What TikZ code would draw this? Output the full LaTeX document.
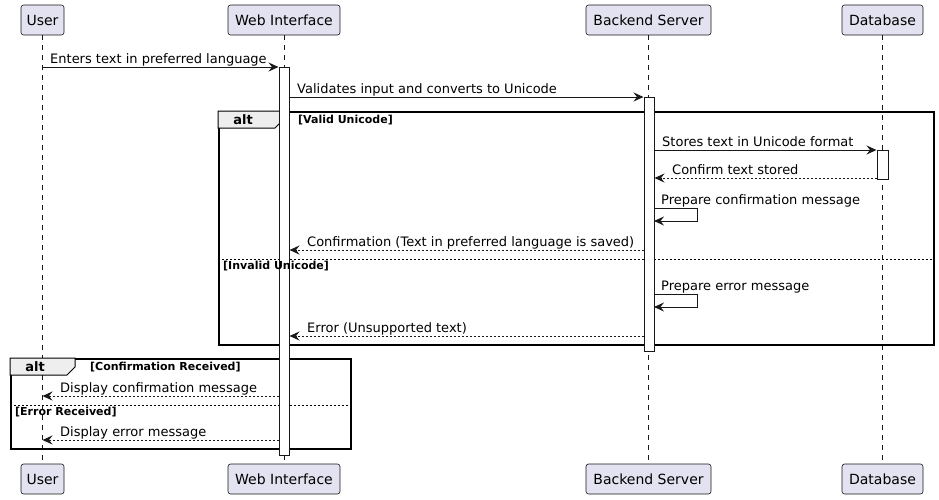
\documentclass[tikz,border=0pt]{standalone}
\usepackage{fontspec}
\setmainfont{DejaVu Sans}
\usetikzlibrary{arrows.meta}
\definecolor{pfill}{HTML}{E2E2F0}
\definecolor{pline}{HTML}{181818}
\definecolor{tabfill}{HTML}{EEEEEE}
\begin{document}
\begin{tikzpicture}[x=1pt,y=-1pt,
 participant/.style={draw=pline, fill=pfill, rounded corners=2.5pt, line width=0.6pt, minimum height=30pt, inner sep=0pt, font=\fontsize{14}{16}\selectfont},
 lifeline/.style={draw=pline, line width=0.6pt, dash pattern=on 5pt off 5pt},
 actbar/.style={draw=pline, fill=white, line width=1pt, minimum width=10pt, inner sep=0pt, anchor=north},
 msg/.style={draw=pline, line width=1pt, -{Stealth[length=10pt,width=9pt,inset=3.5pt]}},
 ret/.style={msg, dash pattern=on 2pt off 2pt},
 lbl/.style={anchor=base west, inner sep=0pt, font=\fontsize{13}{15}\selectfont},
 altframe/.style={draw=black, line width=1.5pt, inner sep=0pt, anchor=north west},
 tab/.style={fill=tabfill, draw=black, line width=1pt},
 altlbl/.style={inner sep=0pt, font=\bfseries\fontsize{13}{15}\selectfont},
 guard/.style={anchor=west, inner sep=0pt, font=\bfseries\fontsize{11}{13}\selectfont},
 sep/.style={draw=black, line width=0.8pt, dash pattern=on 2pt off 2pt}
]
\useasboundingbox (0,0) rectangle (939,499);

% participants
\node[participant, minimum width=43pt] (userT) at (42.5,20) {User};
\node[participant, minimum width=112pt] (webT) at (284,20) {Web Interface};
\node[participant, minimum width=125pt] (backT) at (648.5,20) {Backend Server};
\node[participant, minimum width=81pt] (dbT) at (882.5,20) {Database};
\node[participant, minimum width=43pt] (userB) at (42.5,479) {User};
\node[participant, minimum width=112pt] (webB) at (284,479) {Web Interface};
\node[participant, minimum width=125pt] (backB) at (648.5,479) {Backend Server};
\node[participant, minimum width=81pt] (dbB) at (882.5,479) {Database};

% lifelines
\draw[lifeline] (userT.south) -- (userB.north);
\draw[lifeline] (webT.south) -- (webB.north);
\draw[lifeline] (backT.south) -- (backB.north);
\draw[lifeline] (dbT.south) -- (dbB.north);

% alt frame 1
\node[altframe, minimum width=715pt, minimum height=233pt] (alt1) at (218,111) {};
\draw[tab] (218,111) -- (283,111) -- (283,120) -- (275,128) -- (218,128) -- cycle;
\node[altlbl] (alt1l) at (243,120) {alt};
\draw[sep] (alt1.west |- 0,259) -- (alt1.east |- 0,259);

% alt frame 2
\node[altframe, minimum width=340pt, minimum height=90pt] (alt2) at (10,358) {};
\draw[tab] (10,358) -- (75,358) -- (75,367) -- (67,375) -- (10,375) -- cycle;
\node[altlbl] (alt2l) at (35,367) {alt};
\draw[sep] (alt2.west |- 0,405) -- (alt2.east |- 0,405);

% activation bars
\node[actbar, minimum height=388pt] (webAct) at (284,67) {};
\node[actbar, minimum height=254pt] (backAct) at (649,97) {};
\node[actbar, minimum width=11pt, minimum height=29pt] (dbAct) at (882.5,150) {};

% guards
\node[guard] (g1) at (298,120) {[Valid Unicode]};
\node[guard] (g2) at (223,266) {[Invalid Unicode]};
\node[guard] (g3) at (90,367) {[Confirmation Received]};
\node[guard] (g4) at (15,412) {[Error Received]};

% messages
\coordinate (m1) at (42.5,67);
\draw[msg] (m1) -- (webAct.west |- m1);
\node[lbl] (t1) at (50,63) {Enters text in preferred language};

\coordinate (m2) at (289,97);
\draw[msg] (m2) -- (backAct.west |- m2);
\node[lbl] (t2) at (297,93) {Validates input and converts to Unicode};

\coordinate (m3) at (654,150);
\draw[msg] (m3) -- (dbAct.west |- m3);
\node[lbl] (t3) at (662,146) {Stores text in Unicode format};

\coordinate (m4) at (877,178);
\draw[ret] (m4) -- (backAct.east |- m4);
\node[lbl] (t4) at (672,174) {Confirm text stored};

\coordinate (m5a) at (654,208);
\coordinate (m5b) at (654,221);
\draw[msg] (m5a) -- (697,208) -- (697,221) -- (m5b);
\node[lbl] (t5) at (661,204) {Prepare confirmation message};

\coordinate (m6) at (644,250);
\draw[ret] (m6) -- (webAct.east |- m6);
\node[lbl] (t6) at (307,246) {Confirmation (Text in preferred language is saved)};

\coordinate (m7a) at (654,294);
\coordinate (m7b) at (654,307);
\draw[msg] (m7a) -- (697,294) -- (697,307) -- (m7b);
\node[lbl] (t7) at (661,290) {Prepare error message};

\coordinate (m8) at (644,336);
\draw[ret] (m8) -- (webAct.east |- m8);
\node[lbl] (t8) at (307,332) {Error (Unsupported text)};

\coordinate (m9) at (279,396);
\draw[ret] (m9) -- (userT.south |- m9);
\node[lbl] (t9) at (60,392) {Display confirmation message};

\coordinate (m10) at (279,440);
\draw[ret] (m10) -- (userT.south |- m10);
\node[lbl] (t10) at (60,436) {Display error message};
\end{tikzpicture}
\end{document}
